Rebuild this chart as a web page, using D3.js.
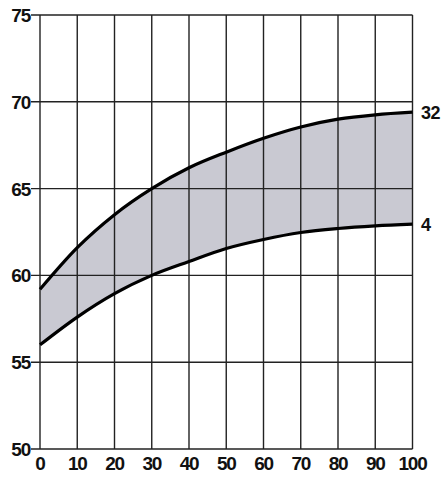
<!DOCTYPE html>
<html>
<head>
<meta charset="utf-8">
<script src="https://cdn.jsdelivr.net/npm/d3@7"></script>
<style>
  body { margin: 0; background: #fff; }
  text { font-family: "Liberation Sans", Arial, sans-serif; font-weight: bold; fill: #111; }
</style>
</head>
<body>
<svg id="chart" width="447" height="482"></svg>
<script>
// values
var xs = [0, 10, 20, 30, 40, 50, 60, 70, 80, 90, 100];
var upper = [59.2, 61.6, 63.5, 65.0, 66.2, 67.1, 67.9, 68.55, 69.0, 69.25, 69.4];
var lower = [56.0, 57.6, 58.95, 60.0, 60.8, 61.55, 62.07, 62.47, 62.7, 62.85, 62.95];
var xTicks = [0, 10, 20, 30, 40, 50, 60, 70, 80, 90, 100];
var yTicks = [50, 55, 60, 65, 70, 75];
var seriesLabels = ['32', '4'];

var svg = d3.select('#chart');

var x = d3.scaleLinear().domain([0, 100]).range([40, 412.5]);
var y = d3.scaleLinear().domain([50, 75]).range([449, 15]);

var rows = xs.map(function (v, i) {
  return { x: v, hi: upper[i], lo: lower[i] };
});

// shaded band
var band = d3.area()
  .x(function (d) { return x(d.x); })
  .y0(function (d) { return y(d.lo); })
  .y1(function (d) { return y(d.hi); })
  .curve(d3.curveMonotoneX);

svg.append('path')
  .datum(rows)
  .attr('d', band)
  .attr('fill', '#c9c9d2');

// grid
var grid = svg.append('g').attr('stroke', '#222').attr('stroke-width', 1.4);
grid.selectAll('.vx')
  .data(xTicks)
  .enter()
  .append('line')
  .attr('x1', x)
  .attr('x2', x)
  .attr('y1', y(75))
  .attr('y2', y(50));
grid.selectAll('.hy')
  .data(yTicks)
  .enter()
  .append('line')
  .attr('x1', x(0) - 9)
  .attr('x2', x(100))
  .attr('y1', y)
  .attr('y2', y);

// curves
var lineHi = d3.line()
  .x(function (d) { return x(d.x); })
  .y(function (d) { return y(d.hi); })
  .curve(d3.curveMonotoneX);
var lineLo = d3.line()
  .x(function (d) { return x(d.x); })
  .y(function (d) { return y(d.lo); })
  .curve(d3.curveMonotoneX);

svg.append('path').datum(rows).attr('d', lineHi)
  .attr('fill', 'none').attr('stroke', '#000').attr('stroke-width', 3.2);
svg.append('path').datum(rows).attr('d', lineLo)
  .attr('fill', 'none').attr('stroke', '#000').attr('stroke-width', 3.2);

// tick labels
svg.append('g')
  .selectAll('text')
  .data(yTicks)
  .enter()
  .append('text')
  .attr('x', 30)
  .attr('y', function (d) { return y(d) + 7; })
  .attr('text-anchor', 'end')
  .attr('font-size', 19)
  .attr('letter-spacing', -1.2)
  .text(function (d) { return d; });

svg.append('g')
  .selectAll('text')
  .data(xTicks)
  .enter()
  .append('text')
  .attr('x', x)
  .attr('y', 470)
  .attr('text-anchor', 'middle')
  .attr('font-size', 19)
  .attr('letter-spacing', -1.2)
  .text(function (d) { return d; });

// series end labels
svg.append('text')
  .attr('x', 421)
  .attr('y', y(upper[upper.length - 1]) + 6.5)
  .attr('font-size', 18)
  .attr('letter-spacing', -0.5)
  .text(seriesLabels[0]);
svg.append('text')
  .attr('x', 421)
  .attr('y', y(lower[lower.length - 1]) + 6.5)
  .attr('font-size', 18)
  .text(seriesLabels[1]);
</script>
</body>
</html>
